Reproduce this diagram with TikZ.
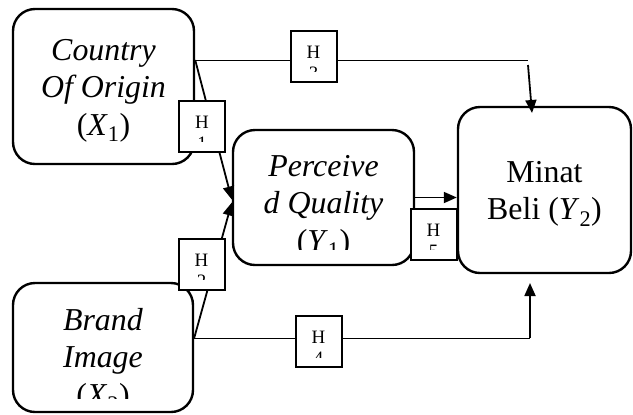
\documentclass[tikz,border=0pt]{standalone}
\usepackage{fontspec}
\setmainfont{Liberation Serif}
\usetikzlibrary{arrows.meta}
\newcommand\blkfont{\fontsize{32}{37.5}\selectfont}
\newcommand\hlabfont{\fontsize{19}{21}\selectfont}
\newcommand\vname[2]{(\textit{#1}\textsubscript{#2})}
\tikzset{
  % --- variable blocks (text box clipped a little above the bottom edge) ------
  blk/.style n args={3}{draw, line width=2.4bp, rounded corners=22bp, fill=white,
       inner sep=0pt,
       path picture={
         \clip[sharp corners] ([yshift=#1]path picture bounding box.south west)
               rectangle (path picture bounding box.north east);
         \node[blktxt] at ([yshift=#2]path picture bounding box.center) {#3};}},
  blktxt/.style={align=center, inner sep=0pt, draw=none, fill=none,
                 minimum size=0pt, font=\blkfont},
  % --- hypothesis tags --------------------------------------------------------
  htag/.style={draw, line width=2bp, fill=white, inner sep=0pt,
       minimum width=46bp, minimum height=51bp,
       path picture={
         \node[htxt] at ([yshift=-2bp]path picture bounding box.center) {H};
         \clip ([yshift=10bp]path picture bounding box.south west)
               rectangle (path picture bounding box.north east);
         \node[htxt] at ([yshift=-23bp]path picture bounding box.center) {#1};}},
  htxt/.style={anchor=base, inner sep=0pt, draw=none, fill=none,
               minimum size=0pt, font=\hlabfont},
  % --- links ------------------------------------------------------------------
  link/.style={line width=1bp},
  arr/.style={-{Triangle[length=13bp,width=11bp]}, line width=1.8bp},
}
\begin{document}
\begin{tikzpicture}[x=1bp, y=-1bp]
  \useasboundingbox (0,0) rectangle (633,414);

  \node[blk={14bp}{-4bp}{\textit{Country}\\\textit{Of Origin}\\\vname{X}{1}},
        minimum width=181bp, minimum height=155bp] (coo) at (103.5,86.5) {};
  \node[blk={16bp}{-9bp}{\textit{Perceive}\\\textit{d Quality}\\\vname{Y}{1}},
        minimum width=181bp, minimum height=135bp] (pq) at (323.5,197.5) {};
  \node[blk={14bp}{-4bp}{Minat\\Beli \vname{Y}{2}},
        minimum width=173bp, minimum height=166bp] (mb) at (544.5,190) {};
  \node[blk={14bp}{-12.5bp}{\textit{Brand}\\\textit{Image}\\\vname{X}{2}},
        minimum width=180bp, minimum height=129bp] (bi) at (103,347.5) {};

  \coordinate (k3)  at (528,60);
  \coordinate (k3t) at (532,113);
  \coordinate (k4)  at (530,338);
  \coordinate (k4t) at (530,283);

  % direct paths to Minat Beli
  \draw[link] (coo.east |- k3) -- (k3);
  \draw[arr] ([yshift=-5bp]k3) -- (k3t);
  \draw[link] (bi.east |- k4) -- (k4);
  \draw[arr] (k4) -- (k4t);
  % paths through Perceived Quality
  \draw[arr] (coo.east |- k3) -- ([yshift=-2bp]pq.west);
  \draw[arr] (bi.east |- k4) -- ([yshift=-5bp]pq.west);
  \draw[arr] (pq.east) -- (pq.east -| mb.west);

  \node[htag=1] (h1) at (202,126) {};
  \node[htag=3] (h3) at (313.5,56) {};
  \node[htag=2] (h2) at (201.5,264) {};
  \node[htag=4] (h4) at (318.5,341.5) {};
  \node[htag=5] (h5) at (433.5,234) {};
\end{tikzpicture}
\end{document}
